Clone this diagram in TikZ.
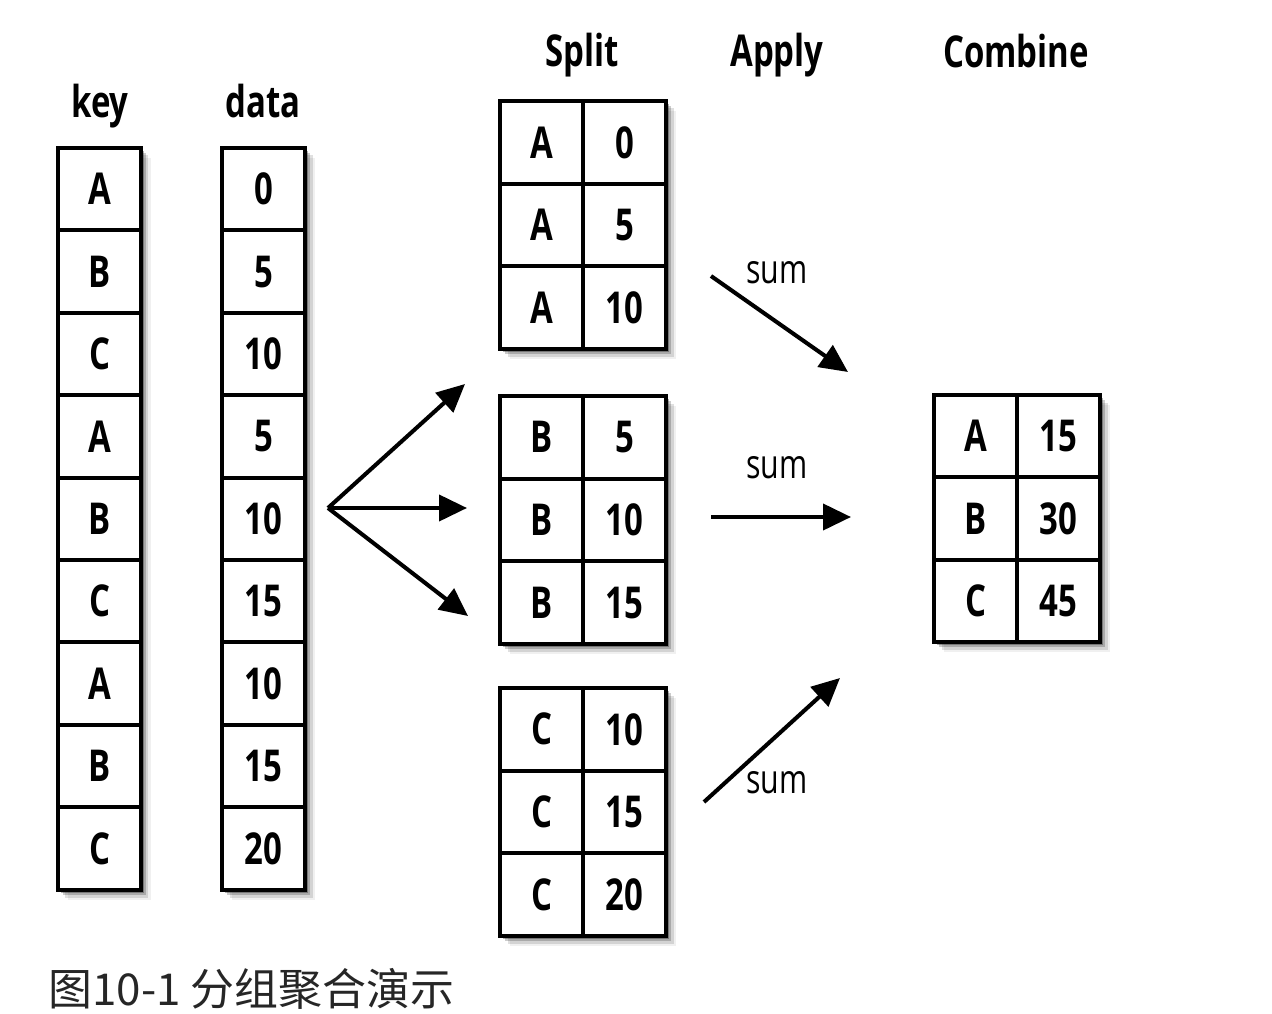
\documentclass[tikz,border=0pt]{standalone}
\usepackage{fontspec}
\setmainfont{Open Sans}
\newfontfamily\condfont{Open Sans}[FakeStretch=0.75]
\newfontfamily\cjkfont{Noto Sans CJK SC}
\usetikzlibrary{arrows.meta,shadows}

\tikzset{
  cell/.style={draw, line width=2.3pt, minimum width=1.66cm, minimum height=1.65cm,
    inner sep=0pt, font=\condfont\bfseries\fontsize{25}{25}\selectfont},
  colbox/.style={fill=white,
    general shadow={fill=black, shadow xshift=0.2cm, shadow yshift=-0.2cm, opacity=0.06},
    general shadow={fill=black, shadow xshift=0.15cm, shadow yshift=-0.15cm, opacity=0.12},
    general shadow={fill=black, shadow xshift=0.1cm, shadow yshift=-0.1cm, opacity=0.2},
    general shadow={fill=black, shadow xshift=0.05cm, shadow yshift=-0.05cm, opacity=0.3}},
  head/.style={anchor=base, inner sep=0pt, font=\condfont\bfseries\fontsize{25}{25}\selectfont},
  op/.style={inner sep=0pt, font=\condfont\fontsize{23}{23}\selectfont},
  arr/.style={line width=2.3pt, -{Triangle[length=0.56cm,width=0.52cm]}}
}

\begin{document}
\begin{tikzpicture}[x=0.02cm,y=-0.02cm]
\useasboundingbox (0,0) rectangle (1272,1014);

% 1. Column headers
\node[head] (keyhead) at (100,117) {key};
\node[head] (datahead) at (263,117) {data};
\node[head] (splithead) at (582,66) {Split};
\node[head] (applyhead) at (777,66) {Apply};
\node[head] (combinehead) at (1016,67) {Combine};

% 2. The key and data columns
\fill[colbox] (58,148) rectangle (141,890);
\fill[colbox] (222,148) rectangle (305,890);
\foreach \k/\d [count=\i from 0] in {A/0,B/5,C/10,A/5,B/10,C/15,A/10,B/15,C/20} {
  \node[cell] (key\i) at (99.5,{189.2+82.4*\i}) {\k};
  \node[cell] (data\i) at (263.5,{189.2+82.4*\i}) {\d};
}

% 3. Split into one block per key
\foreach \g/\y/\a/\b/\c in {A/101/0/5/10, B/396/5/10/15, C/688/10/15/20} {
  \fill[colbox] (500,\y) rectangle (666,\y+248);
  \foreach \v [count=\j from 0] in {\a,\b,\c} {
    \node[cell] (s\g k\j) at (541.5,{\y+41.3+82.7*\j}) {\g};
    \node[cell] (s\g v\j) at (624.5,{\y+41.3+82.7*\j}) {\v};
  }
}

% 4. Combined result
\fill[colbox] (934,395) rectangle (1100,642);
\foreach \g/\v [count=\j from 0] in {A/15,B/30,C/45} {
  \node[cell] (ck\j) at (975.5,{436.2+82.4*\j}) {\g};
  \node[cell] (cv\j) at (1058.5,{436.2+82.4*\j}) {\v};
}

% 5. Split arrows
\coordinate (fork) at (328,508);
\coordinate (toA) at (465,384);
\coordinate (toB) at (467,508);
\coordinate (toC) at (468,616);
\draw[arr] (fork) -- (toA);
\draw[arr] (fork) -- (toB);
\draw[arr] (fork) -- (toC);

% 6. Apply arrows with their labels
\coordinate (fromA) at (711,276);
\coordinate (intoA) at (848,372);
\coordinate (fromB) at (711,517);
\coordinate (intoB) at (851,517);
\coordinate (fromC) at (704,802);
\coordinate (intoC) at (840,678);
\draw[arr] (fromA) -- (intoA);
\draw[arr] (fromB) -- (intoB);
\draw[arr] (fromC) -- (intoC);
\node[op] (sumA) at (777,273) {sum};
\node[op] (sumB) at (777,468) {sum};
\node[op] (sumC) at (777,783) {sum};

% 7. Caption
\node[anchor=base west, inner sep=0pt, text=black!85,
  font=\cjkfont\fontsize{25}{25}\selectfont] (caption) at (48,1005) {图10-1 分组聚合演示};

\end{tikzpicture}
\end{document}
